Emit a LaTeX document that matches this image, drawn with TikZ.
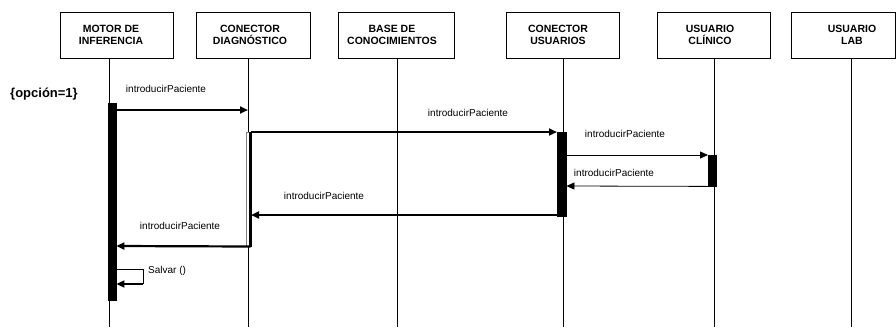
\documentclass[tikz,border=0pt]{standalone}
\usepackage{fontspec}
\setmainfont{Liberation Sans}
\usetikzlibrary{arrows.meta}
\begin{document}
\begin{tikzpicture}[x=1pt,y=-1pt,
  objbox/.style={draw, line width=0.6pt, inner sep=0pt, anchor=north west, minimum height=46pt, minimum width=#1},
  objtxt/.style={inner sep=0pt, align=center, font=\fontsize{10.5}{12}\selectfont\bfseries},
  life/.style={line width=0.6pt},
  actbar/.style={fill=black, draw=black, line width=0.4pt, inner sep=0pt, anchor=north west},
  hollowbar/.style={fill=white, draw=gray, line width=0.5pt, inner sep=0pt, anchor=north west},
  bigmsg/.style={line width=2.2pt, -{Triangle[length=8pt,width=7pt]}},
  smallmsg/.style={line width=0.8pt, -{Triangle[length=8pt,width=7pt]}},
  msgtxt/.style={inner sep=0pt, font=\fontsize{10}{12}\selectfont}
]
\path[use as bounding box] (0,0) rectangle (896,327);

% object headers
\node[objbox=113pt] (boxM) at (60,12) {};
\node[objbox=114pt] (boxD) at (196,12) {};
\node[objbox=116pt] (boxB) at (338,12) {};
\node[objbox=113pt] (boxU) at (506,12) {};
\node[objbox=113pt] (boxC) at (657,12) {};
\node[objbox=104pt] (boxL) at (791,12) {};

\node[objtxt] (txtM) at (111,35) {MOTOR DE\\INFERENCIA};
\node[objtxt] (txtD) at (250,35) {CONECTOR\\DIAGNÓSTICO};
\node[objtxt] (txtB) at (392,35) {BASE DE\\CONOCIMIENTOS};
\node[objtxt] (txtU) at (558,35) {CONECTOR\\USUARIOS};
\node[objtxt] (txtC) at (710,35) {USUARIO\\CLÍNICO};
\node[objtxt] (txtL) at (852,35) {USUARIO\\LAB};

% lifelines
\foreach \n/\x in {M/109.5, D/248, B/397, U/563, C/714, L/851} {
  \coordinate (top\n) at (\x,58);
  \coordinate (end\n) at (\x,327);
  \draw[life] (top\n) -- (end\n);
}

% guard condition
\node[inner sep=0pt, font=\fontsize{13}{15}\selectfont\bfseries] (guard) at (44,94) {\{opción=1\}};

% activation bars
\node[actbar, minimum width=8.5pt, minimum height=197pt] (barM) at (107.5,103) {};
\node[hollowbar, minimum width=5pt, minimum height=114pt] (barD) at (245.5,132) {};
\draw[line width=2.2pt] (barD.north east) ++(-0.5,0) coordinate (barDt) -- (barD.south east -| barDt) coordinate (barDb);
\node[actbar, minimum width=9pt, minimum height=84pt] (barU) at (557,132) {};
\node[actbar, minimum width=8pt, minimum height=31pt] (barC) at (708,155) {};

% message end points
\coordinate (m1a) at (barM.east |- 0,110);
\coordinate (m1b) at (248,110);
\coordinate (m2a) at (barDt);
\coordinate (m2b) at (barU.north west);
\coordinate (m3a) at (barU.east |- 0,155);
\coordinate (m3b) at (barC.north west);
\coordinate (m4a) at (barC.south west);
\coordinate (m4b) at (barU.east |- 0,186);
\coordinate (m5a) at (barU.west |- 0,215);
\coordinate (m5b) at (barD.east |- 0,215);
\coordinate (m6a) at (barDb);
\coordinate (m6b) at (barM.east |- 0,246);
\coordinate (s1) at (barM.east |- 0,269);
\coordinate (s2) at (143,269);
\coordinate (s3) at (143,284);
\coordinate (s4) at (barM.east |- 0,284);

% messages
\draw[bigmsg] (m1a) -- (m1b);
\draw[bigmsg] (m2a) -- (m2b);
\draw[smallmsg] (m3a) -- (m3b);
\draw[smallmsg] (m4a) -- (m4b);
\draw[bigmsg] (m5a) -- (m5b);
\draw[bigmsg] (m6a) -- (m6b);
\draw[line width=0.8pt] (s1) -- (s2) -- (s3);
\draw[line width=1.8pt, -{Triangle[length=8pt,width=7pt]}] (s3) -- (s4);

% message labels
\node[msgtxt] (l1) at (166,89) {introducirPaciente};
\node[msgtxt] (l2) at (468,113) {introducirPaciente};
\node[msgtxt] (l3) at (625,134) {introducirPaciente};
\node[msgtxt] (l4) at (614,173) {introducirPaciente};
\node[msgtxt] (l5) at (324,196) {introducirPaciente};
\node[msgtxt] (l6) at (180,226) {introducirPaciente};
\node[msgtxt, anchor=west] (l7) at (148,271) {Salvar ()};
\end{tikzpicture}
\end{document}
